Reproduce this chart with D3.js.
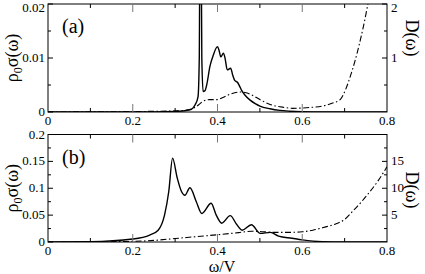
<html>
<head>
<script src="https://d3js.org/d3.v7.min.js"></script>
<style>
body { margin: 0; background: #fff; }
</style>
</head>
<body>
<svg width="425" height="274"></svg>
<script>
// panel (a): conductivity (left axis) and D(w) (right axis)
var sigA_w = [0, 0.1, 0.2, 0.3, 0.335, 0.347, 0.354, 0.357, 0.3585, 0.3615, 0.363, 0.366, 0.37, 0.375, 0.382, 0.39, 0.4, 0.404, 0.408, 0.414, 0.418, 0.423, 0.431, 0.436, 0.441, 0.447, 0.452, 0.457, 0.465, 0.477, 0.49, 0.5, 0.524, 0.547, 0.57, 0.6, 0.65, 0.8];
var sigA_v = [0, 0, 0, 0.0001, 0.0004, 0.0013, 0.0028, 0.01, 0.03, 0.03, 0.01, 0.0038, 0.0039, 0.0052, 0.0084, 0.0105, 0.0121, 0.0113, 0.0102, 0.0109, 0.0099, 0.0078, 0.0081, 0.0068, 0.0058, 0.0055, 0.0048, 0.004, 0.0031, 0.0022, 0.0015, 0.0011, 0.0006, 0.0003, 0.00015, 0.00005, 0, 0];
var dosA_w = [0, 0.1, 0.2, 0.3, 0.33, 0.345, 0.355, 0.366, 0.382, 0.4, 0.413, 0.43, 0.453, 0.465, 0.477, 0.5, 0.524, 0.555, 0.578, 0.602, 0.623, 0.647, 0.67, 0.69, 0.702, 0.713, 0.725, 0.737, 0.749, 0.755, 0.76];
var dosA_v = [0, 0.003, 0.008, 0.02, 0.04, 0.08, 0.13, 0.2, 0.23, 0.23, 0.27, 0.33, 0.37, 0.36, 0.33, 0.23, 0.14, 0.087, 0.068, 0.075, 0.087, 0.11, 0.16, 0.235, 0.41, 0.65, 0.96, 1.33, 1.76, 2.0, 2.15];

// panel (b)
var sigB_w = [0, 0.1, 0.2, 0.24, 0.26, 0.275, 0.285, 0.294, 0.305, 0.315, 0.323, 0.335, 0.35, 0.363, 0.385, 0.397, 0.41, 0.43, 0.445, 0.458, 0.48, 0.501, 0.525, 0.544, 0.576, 0.6, 0.647, 0.7, 0.8];
var sigB_v = [0, 0.0006, 0.0056, 0.013, 0.022, 0.05, 0.094, 0.156, 0.119, 0.094, 0.087, 0.101, 0.075, 0.053, 0.072, 0.05, 0.035, 0.049, 0.033, 0.022, 0.032, 0.016, 0.018, 0.011, 0.007, 0.004, 0.0006, 0, 0];
var dosB_w = [0, 0.1, 0.2, 0.25, 0.3, 0.35, 0.4, 0.45, 0.48, 0.5, 0.53, 0.575, 0.6, 0.625, 0.65, 0.68, 0.7, 0.72, 0.74, 0.76, 0.78, 0.8];
var dosB_v = [0, 0.03, 0.12, 0.3, 0.65, 1.0, 1.35, 1.75, 2.0, 1.95, 1.8, 1.8, 1.9, 2.2, 2.7, 3.4, 4.2, 5.8, 7.5, 9.4, 11.5, 14.0];

var xTicks = [0, 0.2, 0.4, 0.6, 0.8];
var xMinor = [0.1, 0.3, 0.5, 0.7];
var yTicksA = [0, 0.01, 0.02], yMinorA = [0.005, 0.015];
var rTicksA = [1, 2], rMinorA = [0.5, 1.5];
var yTicksB = [0, 0.05, 0.1, 0.15, 0.2], yMinorB = [0.025, 0.075, 0.125, 0.175];
var rTicksB = [5, 10, 15], rMinorB = [2.5, 7.5, 12.5, 17.5];

var svg = d3.select("svg");
var left = 48, right = 387;
var x = d3.scaleLinear().domain([0, 0.8]).range([left, right]);

function panel(id, top, bottom, yDom, rDom, yT, yM, rT, rM, yFmt, sw, sv, dw, dv, tag, rLabelY) {
    var y = d3.scaleLinear().domain(yDom).range([bottom, top]);
    var r = d3.scaleLinear().domain(rDom).range([bottom, top]);
    var g = svg.append("g");

    g.append("clipPath").attr("id", "clip" + id).append("rect")
        .attr("x", left).attr("y", top).attr("width", right - left).attr("height", bottom - top);

    // curves
    var sdata = sw.map(function(w, i) { return [w, sv[i]]; });
    var ddata = dw.map(function(w, i) { return [w, dv[i]]; });
    g.append("path").datum(ddata)
        .attr("clip-path", "url(#clip" + id + ")")
        .attr("fill", "none").attr("stroke", "#000").attr("stroke-width", 1.1)
        .attr("stroke-dasharray", "6,2.5,1.5,2.5")
        .attr("d", d3.line().curve(d3.curveMonotoneX).x(function(d) { return x(d[0]); }).y(function(d) { return r(d[1]); }));
    g.append("path").datum(sdata)
        .attr("clip-path", "url(#clip" + id + ")")
        .attr("fill", "none").attr("stroke", "#000").attr("stroke-width", 1.4)
        .attr("d", d3.line().curve(d3.curveMonotoneX).x(function(d) { return x(d[0]); }).y(function(d) { return y(d[1]); }));

    // frame
    g.append("rect").attr("x", left).attr("y", top).attr("width", right - left).attr("height", bottom - top)
        .attr("fill", "none").attr("stroke", "#000").attr("stroke-width", 1);

    // x ticks, inward on top and bottom
    xTicks.slice(1, -1).forEach(function(t) {
        g.append("line").attr("x1", x(t)).attr("x2", x(t)).attr("y1", bottom).attr("y2", bottom - 8).attr("stroke", "#777");
        g.append("line").attr("x1", x(t)).attr("x2", x(t)).attr("y1", top).attr("y2", top + 8).attr("stroke", "#777");
    });
    xMinor.forEach(function(t) {
        g.append("line").attr("x1", x(t)).attr("x2", x(t)).attr("y1", bottom).attr("y2", bottom - 4).attr("stroke", "#000");
        g.append("line").attr("x1", x(t)).attr("x2", x(t)).attr("y1", top).attr("y2", top + 4).attr("stroke", "#000");
    });
    xTicks.forEach(function(t) {
        g.append("text").attr("x", x(t)).attr("y", bottom + 13).attr("text-anchor", "middle")
            .style("font-size", "13px").text(t === 0 ? "0" : d3.format(".1f")(t));
    });

    // left axis ticks
    yT.concat(yM).forEach(function(t) {
        var len = yT.indexOf(t) >= 0 ? 5 : 3;
        g.append("line").attr("x1", left).attr("x2", left + len).attr("y1", y(t)).attr("y2", y(t)).attr("stroke", "#000");
    });
    yT.forEach(function(t) {
        g.append("text").attr("x", left - 3).attr("y", Math.max(y(t) + 4, 12)).attr("text-anchor", "end")
            .style("font-size", "13px").text(yFmt(t));
    });

    // right axis ticks
    rT.concat(rM).forEach(function(t) {
        var len = rT.indexOf(t) >= 0 ? 5 : 3;
        g.append("line").attr("x1", right).attr("x2", right - len).attr("y1", r(t)).attr("y2", r(t)).attr("stroke", "#000");
    });
    rT.forEach(function(t) {
        g.append("text").attr("x", right + 4).attr("y", Math.max(r(t) + 4, 12)).attr("text-anchor", "start")
            .style("font-size", "13px").text(t);
    });

    // panel tag
    g.append("text").attr("x", left + 14).attr("y", top + 29).style("font-size", "20px").text(tag);

    // axis titles
    var ly = (top + bottom) / 2;
    var lt = g.append("text").attr("transform", "translate(18," + ly + ") rotate(-90)")
        .attr("text-anchor", "middle").style("font-size", "18px");
    lt.append("tspan").text("\u03c1");
    lt.append("tspan").attr("dy", 4).style("font-size", "12px").text("0");
    lt.append("tspan").attr("dy", -4).text("\u03c3(\u03c9)");

    g.append("text").attr("transform", "translate(406," + rLabelY + ") rotate(90)")
        .attr("text-anchor", "middle").style("font-size", "18px").text("D(\u03c9)");
}

panel("a", 4, 112, [0, 0.02], [0, 2], yTicksA, yMinorA, rTicksA, rMinorA,
    function(t) { return t === 0 ? "0" : d3.format(".2f")(t); },
    sigA_w, sigA_v, dosA_w, dosA_v, "(a)", 38);
panel("b", 134.5, 242, [0, 0.2], [0, 20], yTicksB, yMinorB, rTicksB, rMinorB,
    function(t) { return t === 0 ? "0" : String(t); },
    sigB_w, sigB_v, dosB_w, dosB_v, "(b)", 190);

svg.append("text").attr("x", 222).attr("y", 272).attr("text-anchor", "middle")
    .style("font-size", "16px").text("\u03c9/V");

svg.selectAll("text").style("font-family", "'Liberation Serif', 'Times New Roman', Times, serif").style("fill", "#000");
</script>
</body>
</html>
